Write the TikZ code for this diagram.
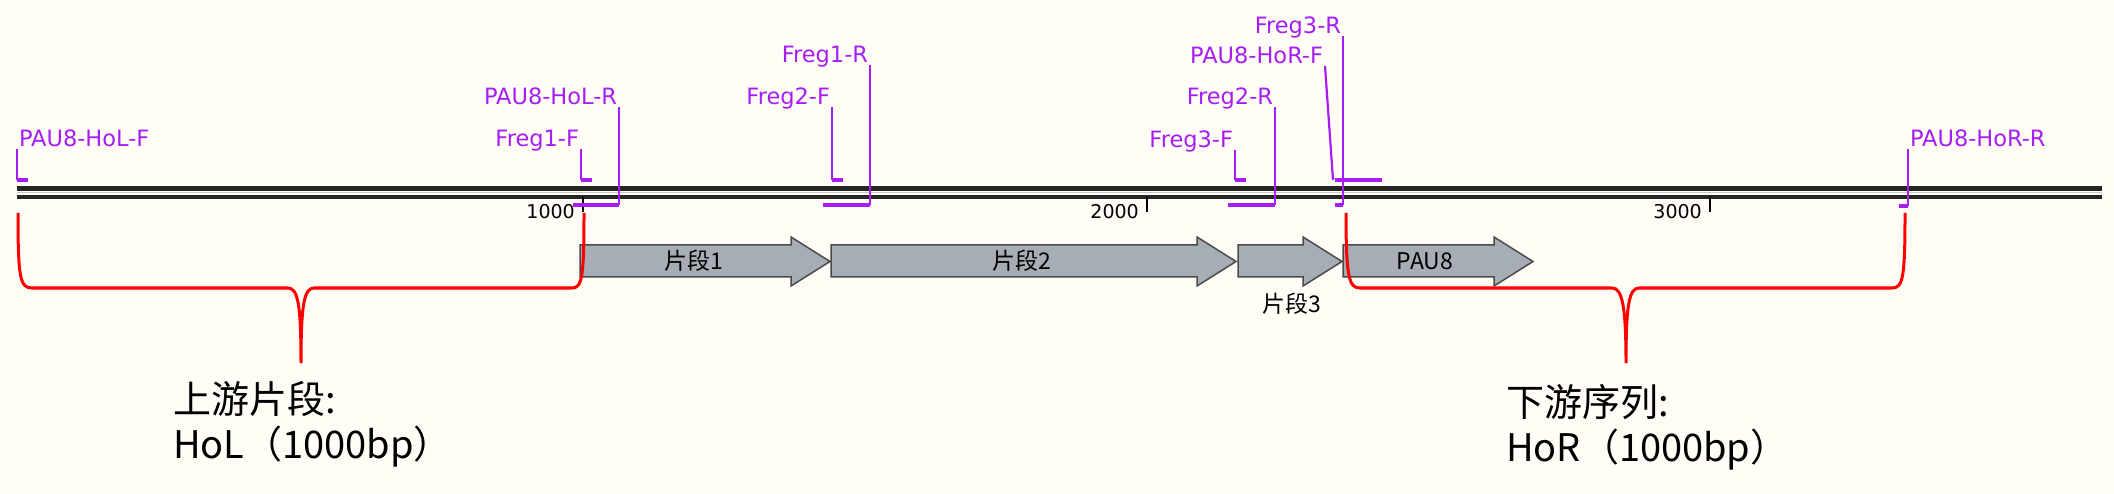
\documentclass[tikz,border=0pt]{standalone}
\usepackage{fontspec}
\newfontfamily\primerfont{DejaVu Sans}
\newfontfamily\cjkfont{Noto Sans CJK SC}
\definecolor{bgcream}{HTML}{FFFDF6}
\definecolor{primerviolet}{HTML}{A61EF5}
\definecolor{dnagray}{HTML}{252525}
\definecolor{genegray}{HTML}{A7ADB5}
\definecolor{geneedge}{HTML}{4B4B4B}
\begin{document}
\begin{tikzpicture}[x=1pt,y=-1pt,
  dnastrand/.style={dnagray,line width=4.5pt},
  tickmark/.style={black,line width=2.5pt},
  ticklabel/.style={font=\primerfont\fontsize{19}{23}\selectfont,inner sep=0pt},
  primer/.style={primerviolet,line width=2.2pt},
  primerdash/.style={primerviolet,line width=3.5pt},
  plabel/.style={primerviolet,font=\primerfont\fontsize{22.5}{27}\selectfont,
    inner sep=0pt,outer sep=2pt,text depth=0pt},
  genebox/.style={fill=genegray,draw=geneedge,line width=1.5pt},
  genelabel/.style={font=\cjkfont\fontsize{23}{27}\selectfont,inner sep=0pt},
  bigtext/.style={font=\cjkfont\fontsize{38}{46}\selectfont,inner sep=0pt},
  brace/.style={red,line width=3pt}]
  \useasboundingbox (0,0) rectangle (2114,494);
  \fill[bgcream] (0,0) rectangle (2114,494);
  % DNA double line
  \draw[dnastrand] (17,188.3) -- (2102,188.3);
  \draw[dnastrand] (17,197) -- (2102,197);
  \draw[gray!45,line width=1.8pt] (17,192.6) -- (2102,192.6);
  % scale
  \foreach \t/\x in {1000/583,2000/1147,3000/1710}{
    \draw[tickmark] (\x,197) -- (\x,212);
    \node[ticklabel,anchor=east] (tick\t) at (\x-8,212) {\t};
  }
  % fragments
  \foreach \a/\b in {580/830,831/1236,1238/1342,1343/1533}
    \draw[genebox] (\a,245) -- (\b-39,245) -- (\b-39,237) -- (\b,261.5)
      -- (\b-39,286) -- (\b-39,277) -- (\a,277) -- cycle;
  \node[genelabel] (frag1) at (694,261) {片段1};
  \node[genelabel] (frag2) at (1022,261) {片段2};
  \node[genelabel] (frag3) at (1292,304) {片段3};
  \node[genelabel] (pau8) at (1425,261) {PAU8};
  % primer labels
  \node[plabel,anchor=south west] (hlf) at (17,149) {PAU8-HoL-F};
  \node[plabel,anchor=south east] (f1f) at (581,149) {Freg1-F};
  \node[plabel,anchor=south east] (hlr) at (619,107) {PAU8-HoL-R};
  \node[plabel,anchor=south east] (f2f) at (832,107) {Freg2-F};
  \node[plabel,anchor=south east] (f1r) at (870,65) {Freg1-R};
  \node[plabel,anchor=south east] (f3f) at (1235,150) {Freg3-F};
  \node[plabel,anchor=south east] (f2r) at (1275,107) {Freg2-R};
  \node[plabel,anchor=south east] (hrf) at (1325,66) {PAU8-HoR-F};
  \node[plabel,anchor=south east] (f3r) at (1343,36) {Freg3-R};
  \node[plabel,anchor=south west] (hrr) at (1908,149) {PAU8-HoR-R};
  % binding sites
  \coordinate (hlf-site) at (17,180);
  \coordinate (f1f-site) at (581,180);
  \coordinate (f2f-site) at (832,180);
  \coordinate (f3f-site) at (1235,180);
  \coordinate (hrf-site) at (1333,180);
  \coordinate (hlr-site) at (573,205);
  \coordinate (f1r-site) at (823,205);
  \coordinate (f2r-site) at (1228,205);
  \coordinate (f3r-site) at (1335,205);
  \coordinate (hrr-site) at (1899,206);
  % forward primers
  \foreach \p/\a in {hlf/south west,f1f/south east,f2f/south east,f3f/south east}{
    \draw[primer] (\p.\a) -- (\p-site);
    \draw[primerdash] (\p-site) -- ++(11,0);
  }
  \draw[primer] (hrf.south east) -- (hrf-site);
  \draw[primerdash] (hrf-site) ++(2,0) -- ++(47,0);
  % reverse primers
  \foreach \p/\a in {hlr/south east,f1r/south east,f2r/south east,f3r/south east,hrr/south west}{
    \draw[primer] (\p.\a) -- (\p.\a |- \p-site);
    \draw[primerdash] (\p.\a |- \p-site) -- (\p-site);
  }
  % homology arms
  \draw[brace] (18,213) .. controls (18,278) and (20,288) .. (32,288) -- (288,288)
    .. controls (298,288) and (301,305) .. (301,363)
    .. controls (301,305) and (304,288) .. (314,288) -- (572,288)
    .. controls (582,288) and (584,278) .. (584,213);
  \draw[brace] (1346,213) .. controls (1346,278) and (1349,288) .. (1360,288) -- (1612,288)
    .. controls (1622,288) and (1626,305) .. (1626,363)
    .. controls (1626,305) and (1629,288) .. (1639,288) -- (1892,288)
    .. controls (1903,288) and (1905,278) .. (1905,213);
  \node[bigtext,anchor=base west] (holhead) at (173,413) {上游片段:};
  \node[bigtext,anchor=base west] (holsize) at (173,458) {HoL（1000bp）};
  \node[bigtext,anchor=base west] (horhead) at (1506,416) {下游序列:};
  \node[bigtext,anchor=base west] (horsize) at (1506,461) {HoR（1000bp）};
\end{tikzpicture}
\end{document}
